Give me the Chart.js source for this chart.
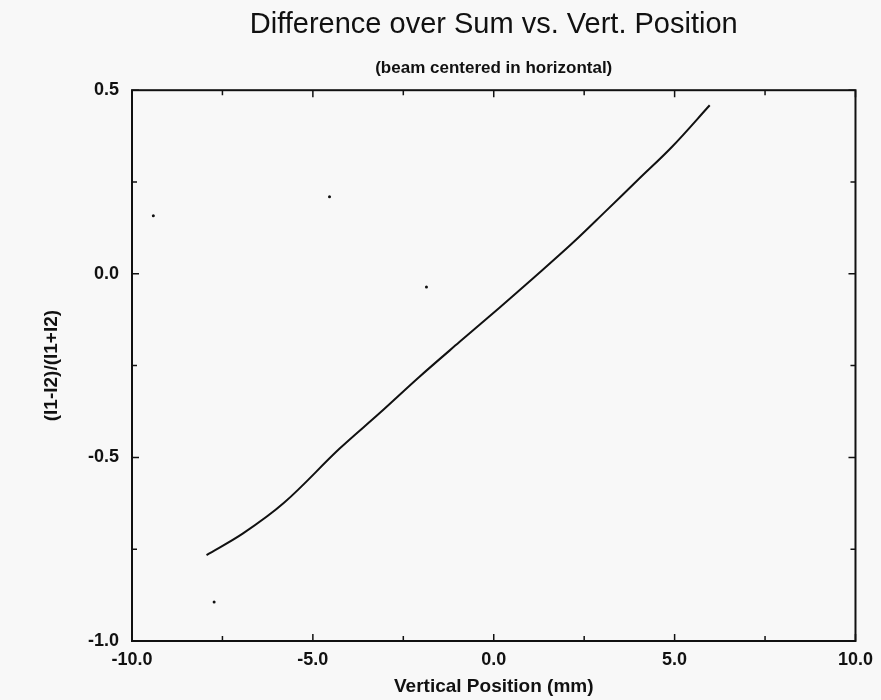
<!DOCTYPE html>
<html>
<head>
<meta charset="utf-8">
<script src="https://cdn.jsdelivr.net/npm/chart.js@4.4.1/dist/chart.umd.min.js"></script>
<style>
  html, body { margin: 0; padding: 0; background: #f8f8f8; }
  #wrap { width: 881px; height: 700px; }
</style>
</head>
<body>
<div id="wrap"><canvas id="dosChart"></canvas></div>
<script>
// curve
const positions = [-7.94, -6.93, -5.79, -4.26, -3.16, -2.06, -0.95, 0.15, 1.16, 2.17, 3.09, 4.01, 4.93, 5.97];
const ratios = [-0.766, -0.707, -0.623, -0.476, -0.380, -0.281, -0.186, -0.093, -0.006, 0.083, 0.170, 0.258, 0.346, 0.459];

// stray specks from the scan
const speckX = [-9.41, -4.54, -1.86, -7.73];
const speckY = [0.158, 0.210, -0.036, -0.894];

const xTicks = [-10, -7.5, -5, -2.5, 0, 2.5, 5, 7.5, 10];
const yTicks = [-1.0, -0.75, -0.5, -0.25, 0, 0.25, 0.5];

Chart.defaults.font.family = "'Liberation Sans', Arial, sans-serif";
Chart.defaults.color = "#111";

// frame plus inward tick marks on all four sides
const frameTicks = {
  id: "frameTicks",
  afterDraw(chart) {
    const { ctx, chartArea: a, scales } = chart;
    ctx.save();
    ctx.strokeStyle = "#111";
    ctx.lineWidth = 2;
    ctx.strokeRect(a.left, a.top, a.right - a.left, a.bottom - a.top);
    ctx.lineWidth = 1.5;
    xTicks.forEach((v) => {
      const px = scales.x.getPixelForValue(v);
      const len = v % 5 === 0 ? 7 : 5;
      ctx.beginPath();
      ctx.moveTo(px, a.bottom); ctx.lineTo(px, a.bottom - len);
      ctx.moveTo(px, a.top); ctx.lineTo(px, a.top + len);
      ctx.stroke();
    });
    yTicks.forEach((v) => {
      const py = scales.y.getPixelForValue(v);
      const len = Math.abs(v * 2) % 1 < 1e-9 ? 7 : 5;
      ctx.beginPath();
      ctx.moveTo(a.left, py); ctx.lineTo(a.left + len, py);
      ctx.moveTo(a.right, py); ctx.lineTo(a.right - len, py);
      ctx.stroke();
    });
    ctx.restore();
  },
};

new Chart(document.getElementById("dosChart").getContext("2d"), {
  type: "scatter",
  data: {
    datasets: [
      {
        label: "(I1-I2)/(I1+I2)",
        data: positions.map((x, i) => ({ x: x, y: ratios[i] })),
        showLine: true,
        borderColor: "#111",
        borderWidth: 2,
        pointRadius: 0,
        tension: 0.35,
      },
      {
        label: "specks",
        data: speckX.map((x, i) => ({ x: x, y: speckY[i] })),
        pointRadius: 1.5,
        pointBackgroundColor: "#111",
        pointBorderWidth: 0,
      },
    ],
  },
  options: {
    responsive: true,
    maintainAspectRatio: false,
    animation: false,
    layout: { padding: { left: 0, right: 24, top: 0, bottom: 0 } },
    plugins: {
      legend: { display: false },
      tooltip: { enabled: false },
      title: {
        display: true,
        fullSize: false,
        text: "Difference over Sum vs. Vert. Position",
        color: "#111",
        font: { size: 29, weight: "normal" },
        padding: { top: 8, bottom: 7 },
      },
      subtitle: {
        display: true,
        fullSize: false,
        text: "(beam centered in horizontal)",
        color: "#111",
        font: { size: 17, weight: "bold" },
        padding: { top: 8, bottom: 12 },
      },
    },
    scales: {
      x: {
        type: "linear",
        min: -10,
        max: 10,
        afterBuildTicks: (s) => { s.ticks = xTicks.map((v) => ({ value: v })); },
        afterFit: (s) => { s.height = 59; },
        grid: { display: false, drawTicks: false },
        border: { display: false },
        ticks: {
          padding: 8,
          font: { size: 18, weight: "bold" },
          color: "#111",
          maxRotation: 0,
          callback: (v) => (v % 5 === 0 ? v.toFixed(1) : ""),
        },
        title: {
          display: true,
          text: "Vertical Position (mm)",
          font: { size: 19, weight: "bold" },
          color: "#111",
          padding: { top: 2, bottom: 2 },
        },
      },
      y: {
        type: "linear",
        min: -1.0,
        max: 0.5,
        afterBuildTicks: (s) => { s.ticks = yTicks.map((v) => ({ value: v })); },
        afterFit: (s) => { s.width = 132; },
        grid: { display: false, drawTicks: false },
        border: { display: false },
        ticks: {
          padding: 13,
          font: { size: 18, weight: "bold" },
          color: "#111",
          callback: (v) => (Math.abs(v * 2) % 1 < 1e-9 ? v.toFixed(1) : ""),
        },
        title: {
          display: true,
          text: "(I1-I2)/(I1+I2)",
          font: { size: 19, weight: "bold" },
          color: "#111",
          padding: { top: 40, bottom: 0 },
        },
      },
    },
  },
  plugins: [frameTicks],
});
</script>
</body>
</html>
